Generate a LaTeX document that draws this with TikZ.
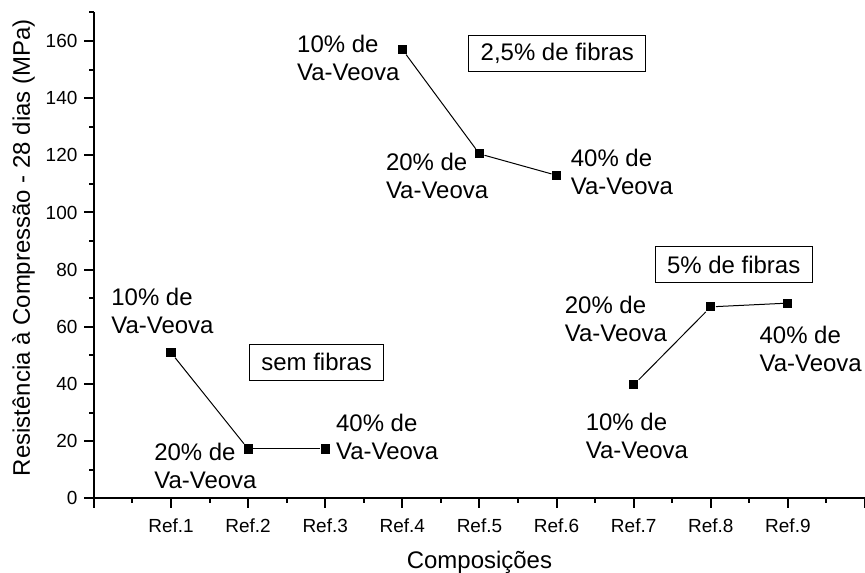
\documentclass[tikz,border=0pt]{standalone}
\usepackage{fontspec}
\setmainfont{Liberation Sans}
\usepackage{tikz}
\tikzstyle{datum} = [rectangle, fill=black, inner sep=0pt, minimum size=4.6pt]
\tikzstyle{note} = [align=left, inner sep=0pt, anchor=west, font=\fontsize{12}{14}\selectfont]
\tikzstyle{group} = [rectangle, draw, line width=0.5pt, inner xsep=6pt, minimum height=18pt, font=\fontsize{12}{14}\selectfont]
\tikzstyle{ticklabel} = [inner sep=0pt, font=\fontsize{9.5}{11}\selectfont]

\begin{document}
\begin{tikzpicture}[x=38.6pt,y=1.43125pt,line width=0.5pt]
  \useasboundingbox (-1.2176,-25.85) rectangle (10,174.32);
  \coordinate (O) at (0,0);
  \coordinate (Xend) at (10,0);
  \coordinate (Yend) at (0,170);
  \draw[line width=1pt] (Xend) -- (O) -- (Yend);
  \foreach \v in {0,20,...,160} {
    \draw[line width=1pt] (0,\v) -- ++(-5pt,0);
    \node[ticklabel, anchor=east] at ([xshift=-8pt]0,\v) {\v};
  }
  \foreach \v in {10,30,...,170}
    \draw[line width=1pt] (0,\v) -- ++(-2.5pt,0);
  \foreach \i in {0,...,10}
    \draw[line width=1pt] (\i,0) -- ++(0,-5pt);
  \foreach \i in {0.5,1.5,...,9.5}
    \draw[line width=1pt] (\i,0) -- ++(0,-2.5pt);
  \foreach \i in {1,...,9}
    \node[ticklabel, anchor=north] at ([yshift=-10pt]\i,0) {Ref.\i};
  \node[font=\fontsize{12}{14}\selectfont] (xtitle) at (5,-22.3) {Composições};
  \node[font=\fontsize{12}{14}\selectfont, rotate=90] (ytitle) at (-0.913,87.7) {Resistência à Compressão - 28 dias (MPa)};

  \node[datum] (r1) at (1,51) {};
  \node[datum] (r2) at (2,17.3) {};
  \node[datum] (r3) at (3,17.3) {};
  \node[datum] (r4) at (4,157) {};
  \node[datum] (r5) at (5,120.5) {};
  \node[datum] (r6) at (6,113) {};
  \node[datum] (r7) at (7,39.7) {};
  \node[datum] (r8) at (8,67) {};
  \node[datum] (r9) at (9,68.3) {};

  \node[note] (n1) at (0.220,65.5) {10\% de\\Va-Veova};
  \node[note] (n2) at (0.777,11.5) {20\% de\\Va-Veova};
  \node[note] (n3) at (3.135,21.5) {40\% de\\Va-Veova};
  \node[note] (n4) at (2.630,154.2) {10\% de\\Va-Veova};
  \node[note] (n5) at (3.782,112.8) {20\% de\\Va-Veova};
  \node[note] (n6) at (6.179,114.1) {40\% de\\Va-Veova};
  \node[note] (n7) at (6.373,22.0) {10\% de\\Va-Veova};
  \node[note] (n8) at (6.101,62.9) {20\% de\\Va-Veova};
  \node[note] (n9) at (8.627,52.4) {40\% de\\Va-Veova};

  \node[group] (g0) at (2.889,47.7) {sem fibras};
  \node[group] (g1) at (6.010,155.6) {2,5\% de fibras};
  \node[group] (g2) at (8.297,81.7) {5\% de fibras};

  \path (r1) edge (r2);
  \path (r2) edge (r3);
  \path (r4) edge (r5);
  \path (r5) edge (r6);
  \path (r7) edge (r8);
  \path (r8) edge (r9);
\end{tikzpicture}
\end{document}
